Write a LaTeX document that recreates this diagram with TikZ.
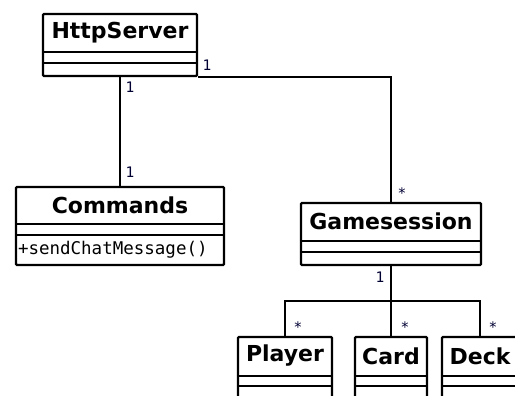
\documentclass[tikz,border=0pt]{standalone}
\usepackage{fontspec}
\setmainfont{DejaVu Sans}
\newfontfamily\monofont{DejaVu Sans Mono}
\usetikzlibrary{calc}
\begin{document}
\begin{tikzpicture}[x=1pt,y=-1pt,
  classbox/.style={draw, line width=2.4pt, rounded corners=1pt, inner sep=0pt, fill=white},
  classname/.style={font=\fontsize{22}{22}\selectfont\bfseries, inner sep=0pt, anchor=center},
  opstext/.style={font=\monofont\fontsize{17.5}{17.5}\selectfont, inner sep=0pt, anchor=west},
  mult/.style={font=\monofont\fontsize{14.5}{14.5}\selectfont, inner sep=0pt, text=black!80!blue},
  assoc/.style={line width=2.4pt},
  sep/.style={line width=2.4pt}]
\useasboundingbox (0,0) rectangle (515,396);

% class boxes
\node[classbox, minimum width=154, minimum height=62] (http) at (120,45) {};
\node[classbox, minimum width=208, minimum height=78] (cmd) at (120,226) {};
\node[classbox, minimum width=180, minimum height=62] (gs) at (391,234) {};
\node[classbox, minimum width=94, minimum height=62] (player) at (285,368) {};
\node[classbox, minimum width=72, minimum height=62] (card) at (391,368) {};
\node[classbox, minimum width=76, minimum height=62] (deck) at (480,368) {};

% compartments
\draw[sep] ($(http.north west)+(0,39)$) -- ($(http.north east)+(0,39)$);
\draw[sep] ($(http.north west)+(0,50)$) -- ($(http.north east)+(0,50)$);
\draw[sep] ($(cmd.north west)+(0,38)$) -- ($(cmd.north east)+(0,38)$);
\draw[sep] ($(cmd.north west)+(0,49)$) -- ($(cmd.north east)+(0,49)$);
\draw[sep] ($(gs.north west)+(0,39)$) -- ($(gs.north east)+(0,39)$);
\draw[sep] ($(gs.north west)+(0,50)$) -- ($(gs.north east)+(0,50)$);
\foreach \c in {player,card,deck}{
  \draw[sep] ($(\c.north west)+(0,40)$) -- ($(\c.north east)+(0,40)$);
  \draw[sep] ($(\c.north west)+(0,50)$) -- ($(\c.north east)+(0,50)$);
}

% names and operations
\node[classname] (httpname) at ($(http.north)+(0,19.5)$) {HttpServer};
\node[classname] (cmdname) at ($(cmd.north)+(0,19)$) {Commands};
\node[opstext] (cmdop) at ($(cmd.north west)+(3,63.5)$) {+sendChatMessage()};
\node[classname] (gsname) at ($(gs.north)+(0,19.5)$) {Gamesession};
\node[classname] (playername) at ($(player.north)+(0,20)$) {Player};
\node[classname] (cardname) at ($(card.north)+(0,20)$) {Card};
\node[classname] (deckname) at ($(deck.north)+(0,20)$) {Deck};

% associations
\coordinate (bus) at (391,301);
\draw[assoc] (http.south) -- (cmd.north);
\draw[assoc] (http.south east) -| (gs.north);
\draw[assoc] (gs.south) -- (bus);
\draw[assoc] (bus) -| (player.north);
\draw[assoc] (bus) -- (card.north);
\draw[assoc] (bus) -| (deck.north);

% multiplicities
\node[mult] (m1) at (207,65) {1};
\node[mult] (m2) at (130,87) {1};
\node[mult] (m3) at (130,172) {1};
\node[mult] (m4) at (402,193) {*};
\node[mult] (m5) at (380,277) {1};
\node[mult] (m6) at (298,327) {*};
\node[mult] (m7) at (405,327) {*};
\node[mult] (m8) at (493,327) {*};
\end{tikzpicture}
\end{document}
